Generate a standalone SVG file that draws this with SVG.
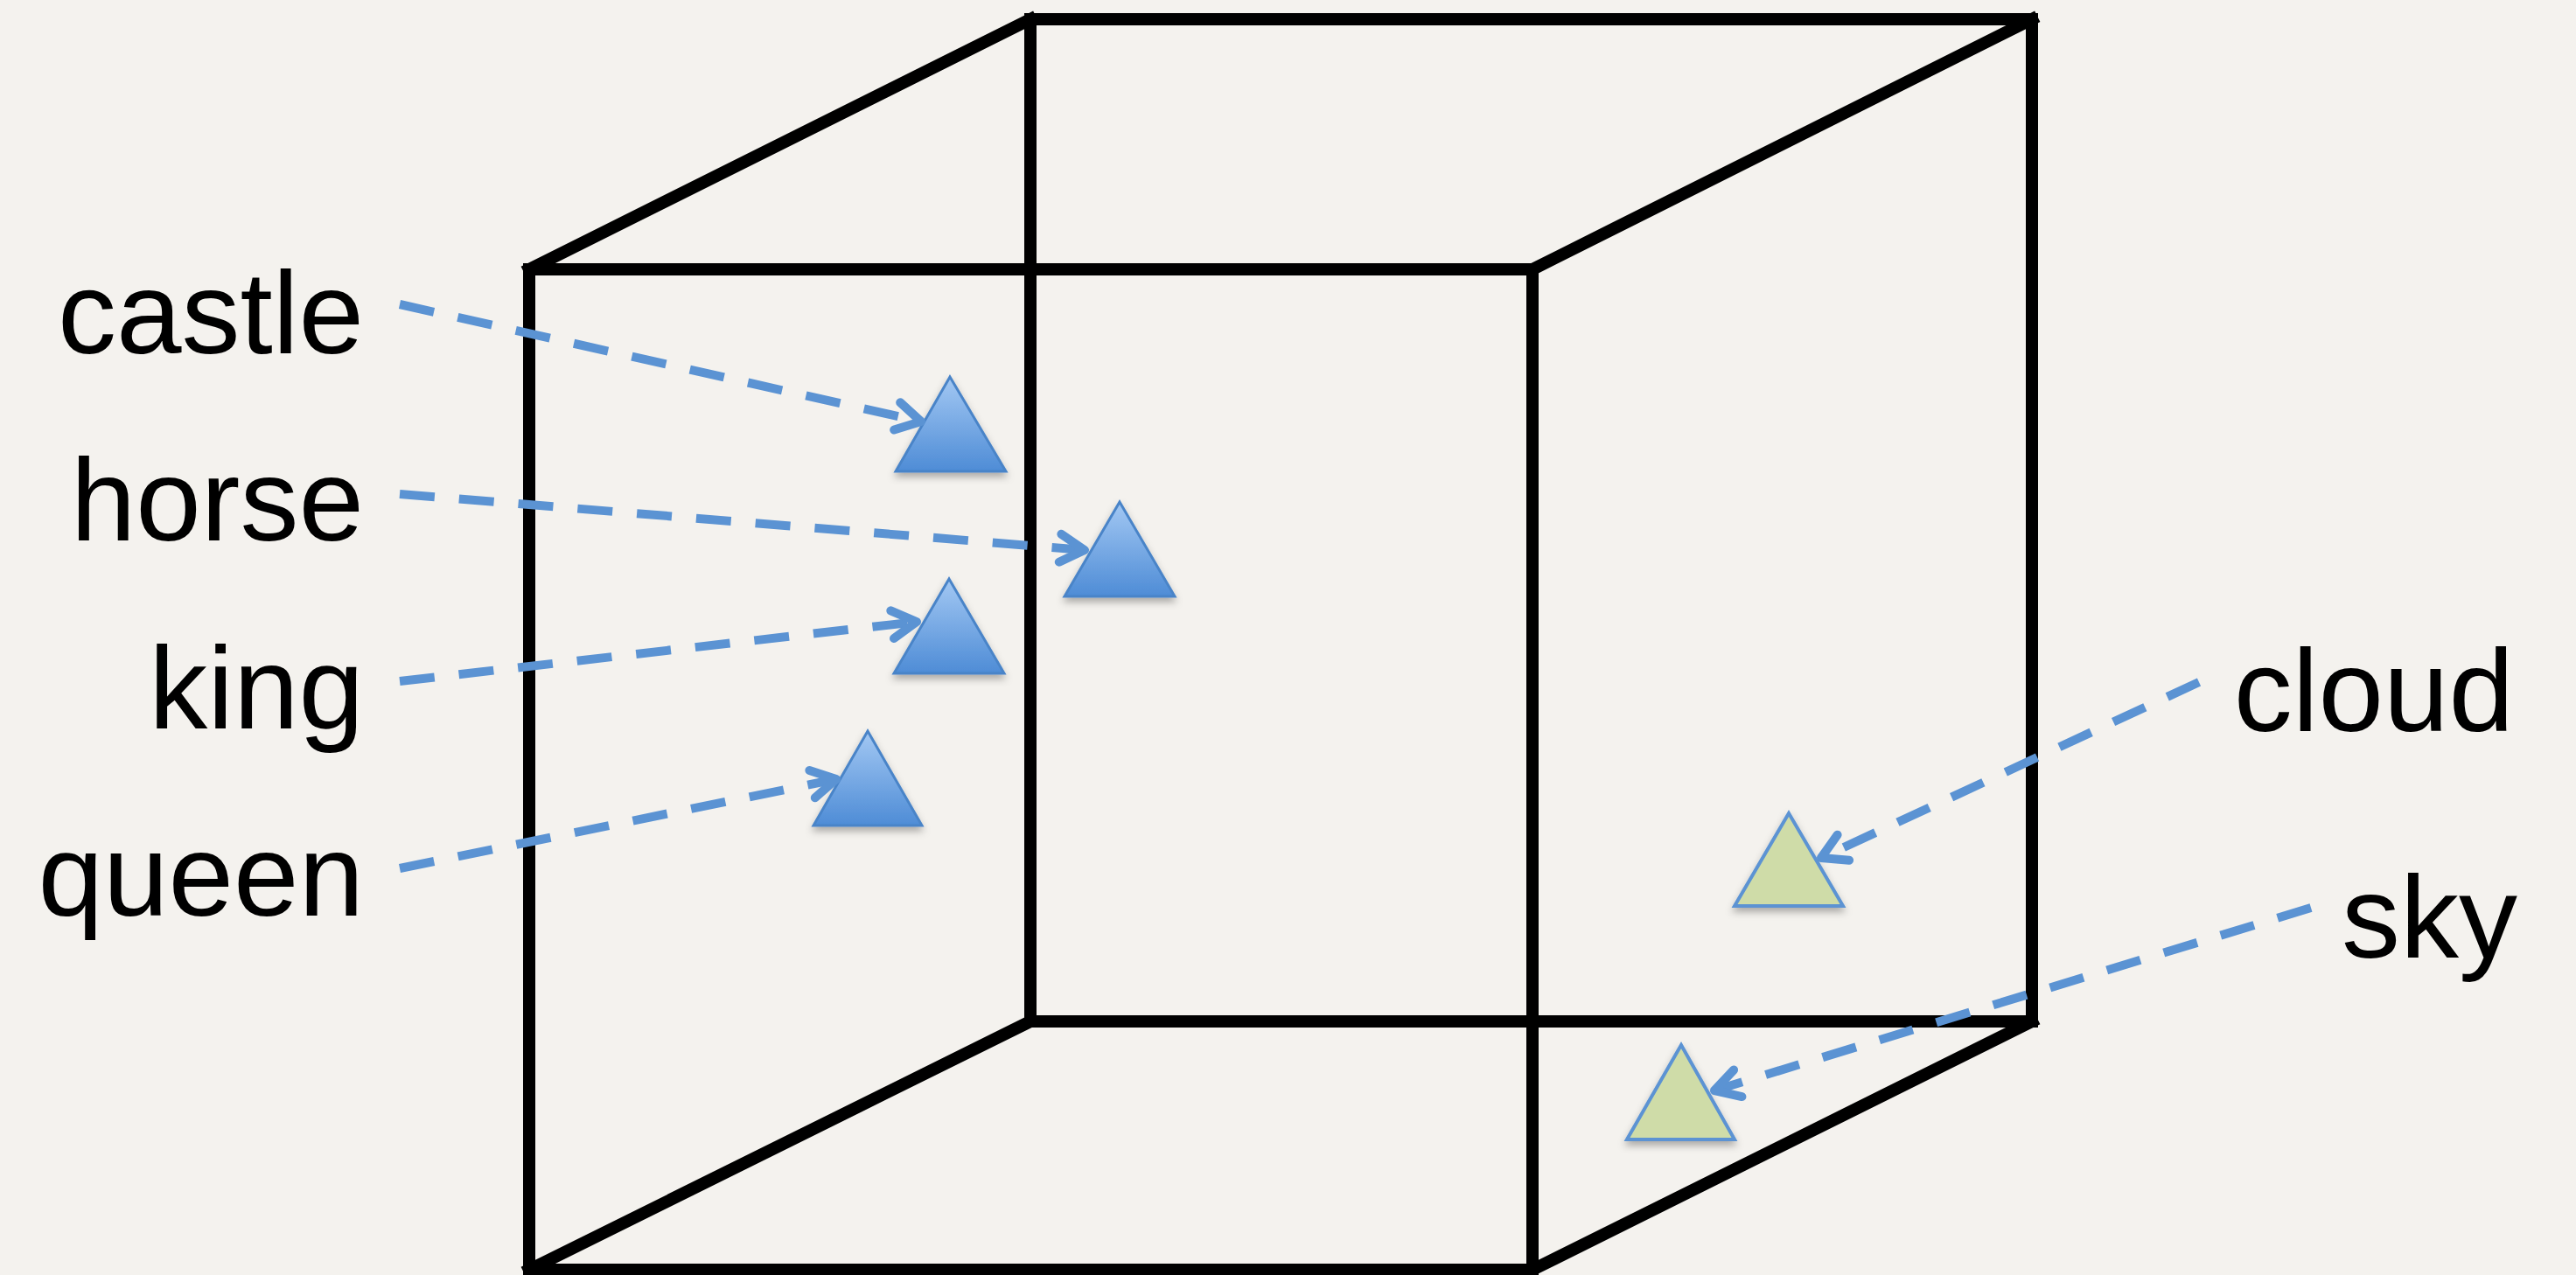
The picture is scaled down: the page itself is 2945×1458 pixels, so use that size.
<svg xmlns="http://www.w3.org/2000/svg" width="2945" height="1458" viewBox="0 0 2945 1458">
<defs>
<style>
.cube{fill:none;stroke:#000;stroke-width:14;stroke-linejoin:miter;stroke-linecap:square}
.lbl{font-family:"Liberation Sans",Arial,sans-serif;font-size:134px;fill:#000}
.conn{fill:none;stroke:#5b93d3;stroke-width:10;stroke-dasharray:40 28}
.blue{fill:url(#gb);stroke:#4a84c8;stroke-width:3;filter:url(#sh)}
.green{fill:#cfdca8;stroke:#5b93d3;stroke-width:4;filter:url(#sh)}
</style>
<linearGradient id="gb" x1="0" y1="0" x2="0" y2="1">
<stop offset="0" stop-color="#a3c8f3"/>
<stop offset="1" stop-color="#4e8cd6"/>
</linearGradient>
<filter id="sh" x="-20%" y="-20%" width="140%" height="150%">
<feDropShadow dx="0" dy="5" stdDeviation="4" flood-color="#000" flood-opacity="0.3"/>
</filter>
<marker id="arr" markerUnits="userSpaceOnUse" markerWidth="44" markerHeight="44" viewBox="0 0 44 44" refX="36" refY="22" orient="auto">
<path d="M8,6 L36,22 L8,38" fill="none" stroke="#5b93d3" stroke-width="10" stroke-linecap="round" stroke-linejoin="round"/>
</marker>
</defs>
<rect width="2945" height="1458" fill="#f4f2ee"/>
<g id="cube">
<path class="cube" d="M1178,22 L2323,22 L2323,1168 L1178,1168 Z"/>
<path class="cube" d="M605,308 L1178,22 M1752,308 L2323,22 M1752,1452 L2323,1168 M605,1452 L1178,1168"/>
<path class="cube" d="M605,308 L1752,308 L1752,1452 L605,1452 Z"/>
</g>
<g id="node-castle"><polygon class="blue" points="1086,431 1150,539 1024,539"/><text class="lbl" x="416" y="404" text-anchor="end">castle</text></g>
<g id="node-horse"><polygon class="blue" points="1280,574 1343,682 1217,682"/><text class="lbl" x="416" y="618" text-anchor="end">horse</text></g>
<g id="node-king"><polygon class="blue" points="1085,662 1148,770 1022,770"/><text class="lbl" x="416" y="833" text-anchor="end">king</text></g>
<g id="node-queen"><polygon class="blue" points="992,836 1054,944 930,944"/><text class="lbl" x="416" y="1047" text-anchor="end">queen</text></g>
<g id="node-cloud"><polygon class="green" points="2045,930 2107,1036 1983,1036"/><text class="lbl" x="2874" y="836" text-anchor="end">cloud</text></g>
<g id="node-sky"><polygon class="green" points="1922,1195 1983,1303 1860,1303"/><text class="lbl" x="2878" y="1095" text-anchor="end">sky</text></g>
<g id="connectors">
<path class="conn" marker-end="url(#arr)" d="M457,348 L1053,482"/>
<path class="conn" marker-end="url(#arr)" d="M457,565 L1240,629"/>
<path class="conn" marker-end="url(#arr)" d="M457,779 L1048,711"/>
<path class="conn" marker-end="url(#arr)" d="M457,993 L956,891"/>
<path class="conn" marker-end="url(#arr)" d="M2514,780 L2082,981"/>
<path class="conn" marker-end="url(#arr)" d="M2642,1038 L1960,1247"/>
</g>
</svg>
